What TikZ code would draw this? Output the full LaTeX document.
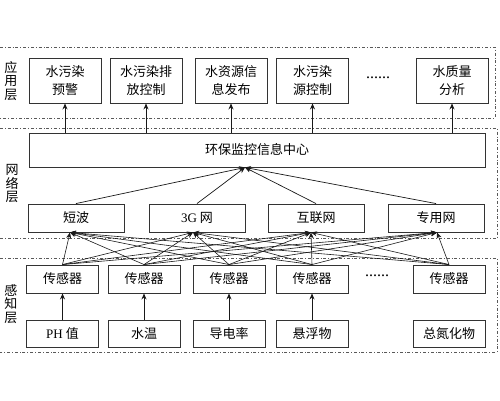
\documentclass[tikz,border=0pt]{standalone}
\usepackage{fontspec}
\setmainfont{Noto Sans CJK SC}
\newfontfamily\latf{Liberation Serif}
\usetikzlibrary{arrows.meta,calc}
\tikzset{
  box/.style={draw=black!80, line width=0.9pt, minimum width=72pt, minimum height=28pt, inner sep=1pt, align=center, font=\fontsize{13}{18}\selectfont},
  nbox/.style={box, minimum width=96pt},
  abox/.style={box, minimum height=45pt},
  layer/.style={draw=black!65, line width=0.7pt, dash dot},
  arr/.style={draw=black!90, line width=0.7pt, -{Stealth[length=6pt,width=5pt]}},
  lbl/.style={align=center, font=\fontsize{13}{13.5}\selectfont, inner sep=0pt},
  dots/.style={font=\fontsize{16}{16}\selectfont}
}
\begin{document}
\begin{tikzpicture}[x=1pt,y=-1pt]
\useasboundingbox (0,0) rectangle (500,400);
% layers
\draw[layer] (0,47) -- (495,47) -- (495,118) -- (0,118);
\draw[layer] (0,128) -- (497,128) -- (497,238) -- (0,238);
\draw[layer] (0,258) -- (497,258) -- (497,352) -- (0,352);
% layer labels
\node[lbl] (L1) at (11,81) {应\\用\\层};
\node[lbl] (L2) at (12,184) {网\\络\\层};
\node[lbl] (L3) at (11,304) {感\\知\\层};
% application layer
\node[abox] (A1) at (65,80.5) {水污染\\预警};
\node[abox] (A2) at (146,80.5) {水污染排\\放控制};
\node[abox] (A3) at (231,80.5) {水资源信\\息发布};
\node[abox] (A4) at (312.5,80.5) {水污染\\源控制};
\node[dots] (AD) at (378,78) {\latf ......};
\node[abox] (A6) at (452,80.5) {水质量\\分析};
% center
\node[box, minimum width=456pt, minimum height=34pt] (C) at (257,150) {环保监控信息中心};
\coordinate (Cin) at ($(C.south)+(-12,0)$);
% network
\node[nbox] (N1) at (76,218) {短波};
\node[nbox] (N2) at (197,218) {{\latf 3G} 网};
\node[nbox] (N3) at (316,218) {互联网};
\node[nbox] (N4) at (436,218) {专用网};
% sensors
\node[box] (S1) at (62.5,279) {传感器};
\node[box] (S2) at (144,279) {传感器};
\node[box] (S3) at (229,279) {传感器};
\node[box] (S4) at (312,279) {传感器};
\node[dots] (SD) at (377,276) {\latf ......};
\node[box] (S6) at (449,279) {传感器};
% bottom
\node[box, minimum height=27pt] (B1) at (62.5,333.5) {{\latf PH} 值};
\node[box, minimum height=27pt] (B2) at (144,333.5) {水温};
\node[box, minimum height=27pt] (B3) at (229,333.5) {导电率};
\node[box, minimum height=27pt] (B4) at (312,333.5) {悬浮物};
\node[box, minimum height=27pt] (B6) at (449,333.5) {总氮化物};
% arrows center -> application
\foreach \a in {A1,A2,A3,A4,A6}
  \draw[arr] (C.north -| \a.south) -- (\a.south);
% network -> center
\foreach \n in {N1,N2,N3,N4}
  \draw[arr] (\n.north) -- (Cin);
% sensors -> network (mesh)
\coordinate (T1) at ($(N1.south)+(-6,0)$);
\coordinate (T2) at ($(N2.south)+(-4,0)$);
\coordinate (T3) at ($(N3.south)+(-5,0)$);
\coordinate (T4) at ($(N4.south)+(1,0)$);
\foreach \s in {S1,S2,S3,S4,S6}
  \foreach \t in {T1,T2,T3,T4}
    \draw[arr, line width=0.6pt] (\s.north) -- (\t);
% bottom -> sensors
\foreach \i in {1,2,3,4}
  \draw[arr] (B\i.north) -- (S\i.south);
\end{tikzpicture}
\end{document}
